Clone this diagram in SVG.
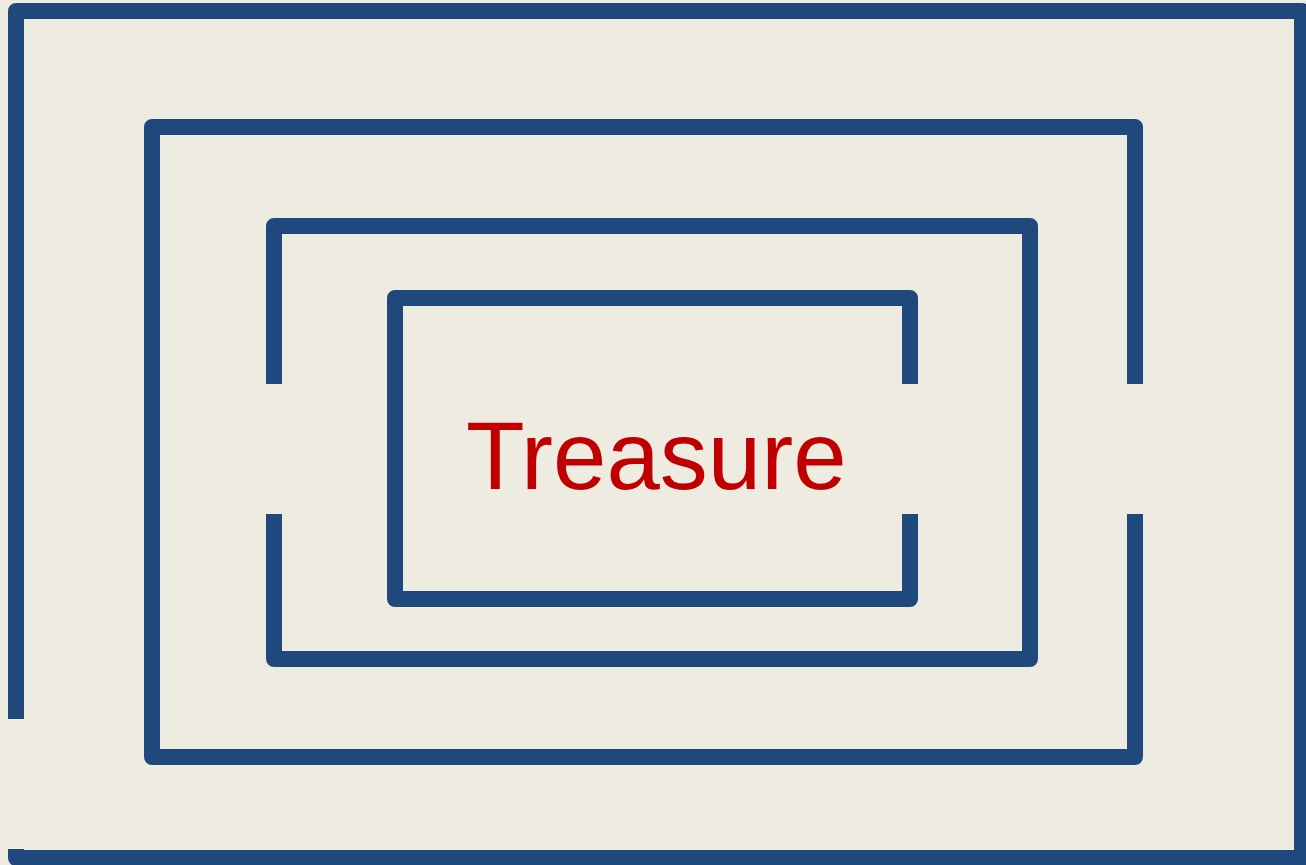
<svg xmlns="http://www.w3.org/2000/svg" width="1306" height="865" viewBox="0 0 1306 865">
<style>
.wall{fill:none;stroke:#1F497D;stroke-width:16;stroke-linejoin:round;stroke-linecap:butt}
.label{font-family:"Liberation Sans",Arial,sans-serif;font-size:96px;fill:#C00000}
</style>
<rect x="0" y="0" width="1306" height="865" fill="#EEEBE1"/>
<g id="walls">
<path id="wall1" class="wall" d="M16,719 L16,11 L1302,11 L1302,858 L16,858 L16,849"/>
<path id="wall2" class="wall" d="M1135,384 L1135,127 L152,127 L152,757 L1135,757 L1135,514"/>
<path id="wall3" class="wall" d="M274,384 L274,226 L1030,226 L1030,659 L274,659 L274,514"/>
<path id="wall4" class="wall" d="M910,384 L910,298 L395,298 L395,599 L910,599 L910,514"/>
</g>
<g id="treasure">
<text class="label" x="466" y="489">Treasure</text>
</g>
</svg>
